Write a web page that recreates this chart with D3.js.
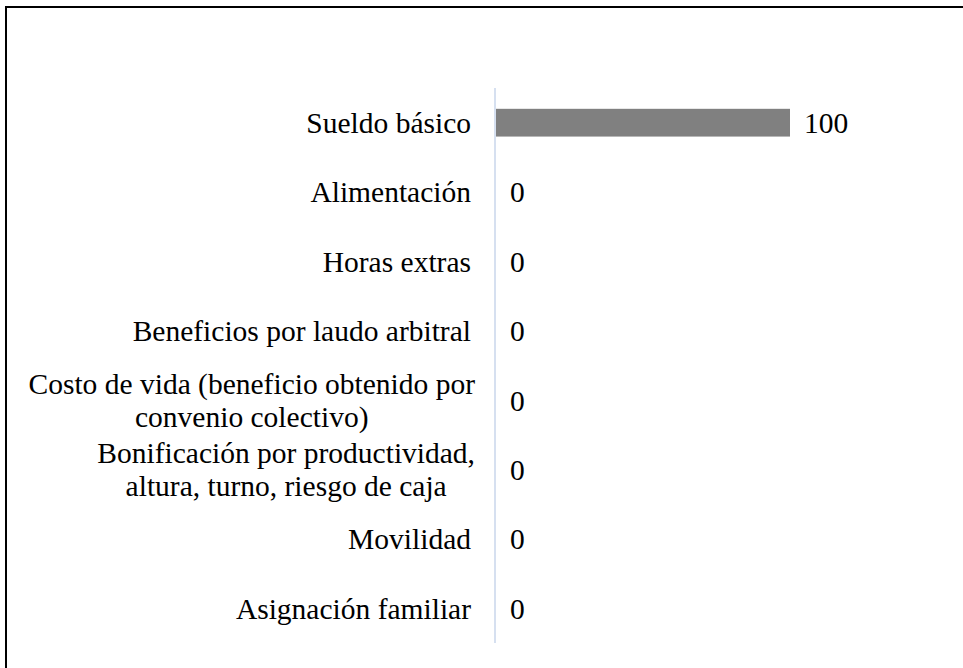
<!DOCTYPE html>
<html>
<head>
<meta charset="utf-8">
<script src="https://cdn.jsdelivr.net/npm/d3@7"></script>
<style>
  body { margin: 0; background: #fff; }
</style>
</head>
<body>
<svg id="chart" width="963" height="668"></svg>
<script>
const categories = [
  ['Sueldo básico'],
  ['Alimentación'],
  ['Horas extras'],
  ['Beneficios por laudo arbitral'],
  ['Costo de vida (beneficio obtenido por', 'convenio colectivo)'],
  ['Bonificación por productividad,', 'altura, turno, riesgo de caja'],
  ['Movilidad'],
  ['Asignación familiar']
];
const values = [100, 0, 0, 0, 0, 0, 0, 0];

const svg = d3.select('#chart');
const fontFamily = 'Liberation Serif';
const fontSize = 29.5;

// frame (cut at right and bottom like the source)
svg.append('rect')
  .attr('x', 6).attr('y', 7)
  .attr('width', 1000).attr('height', 700)
  .attr('fill', 'none')
  .attr('stroke', '#000')
  .attr('stroke-width', 2);

const data = categories.map((c, i) => ({ lines: c, value: values[i], key: i }));

const y = d3.scaleBand()
  .domain(data.map(d => d.key))
  .range([88, 643])
  .paddingInner(0.6)
  .paddingOuter(0.3);

const x = d3.scaleLinear()
  .domain([0, 100])
  .range([496, 790]);

// bars
svg.selectAll('.bar')
  .data(data)
  .enter()
  .append('rect')
  .attr('class', 'bar')
  .attr('x', x(0))
  .attr('y', d => y(d.key))
  .attr('width', d => x(d.value) - x(0))
  .attr('height', y.bandwidth())
  .attr('fill', '#808080');

// axis line
svg.append('line')
  .attr('x1', 495).attr('x2', 495)
  .attr('y1', 88).attr('y2', 643)
  .attr('stroke', '#d6e0f0')
  .attr('stroke-width', 2);

// value labels
svg.selectAll('.val')
  .data(data)
  .enter()
  .append('text')
  .attr('class', 'val')
  .attr('x', d => x(d.value) + 14)
  .attr('y', d => y(d.key) + y.bandwidth() / 2)
  .attr('dy', '0.35em')
  .attr('font-family', fontFamily)
  .attr('font-size', fontSize)
  .attr('fill', '#000')
  .text(d => d.value);

// category labels
const lineH = 33;
const labelRight = 471;
data.forEach(d => {
  const cy = y(d.key) + y.bandwidth() / 2;
  const g = svg.append('g');
  const n = d.lines.length;
  const texts = d.lines.map((l, i) => g.append('text')
    .attr('y', cy + (i - (n - 1) / 2) * lineH)
    .attr('dy', '0.35em')
    .attr('font-family', fontFamily)
    .attr('font-size', fontSize)
    .attr('fill', '#000')
    .text(l));
  if (n === 1) {
    texts[0].attr('x', labelRight).attr('text-anchor', 'end');
  } else {
    const maxW = d3.max(texts, t => t.node().getComputedTextLength());
    texts.forEach(t => t.attr('x', labelRight + 4 - maxW / 2).attr('text-anchor', 'middle'));
  }
});
</script>
</body>
</html>
